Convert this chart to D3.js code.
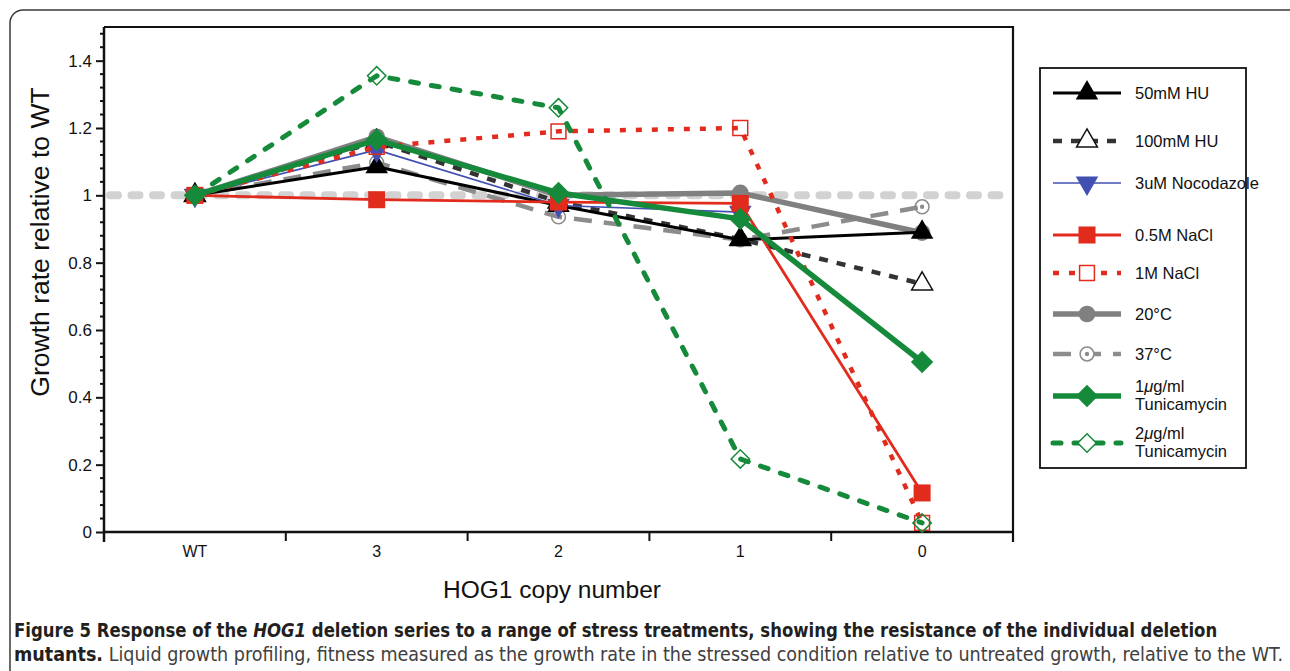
<!DOCTYPE html>
<html>
<head>
<meta charset="utf-8">
<script src="https://cdn.jsdelivr.net/npm/d3@7"></script>
<style>
  body { margin: 0; background: #fff; }
  svg { display: block; }
  text { font-family: "Liberation Sans", Arial, Helvetica, sans-serif; }
</style>
</head>
<body>
<svg id="chart" width="1290" height="671"></svg>
<script>
// copy numbers along x
var categories = ["WT", "3", "2", "1", "0"];
var yTicks = [0, 0.2, 0.4, 0.6, 0.8, 1, 1.2, 1.4];
var yTickLabels = ["0", "0.2", "0.4", "0.6", "0.8", "1", "1.2", "1.4"];

// growth rate relative to WT
var hu50       = [1.00, 1.085, 0.97, 0.868, 0.89];
var hu100      = [1.00, 1.16, 0.98, 0.87, 0.737];
var nocodazole = [1.00, 1.135, 0.97, 0.95, null];
var nacl05     = [1.00, 0.987, 0.98, 0.976, 0.116];
var nacl1      = [1.00, 1.144, 1.19, 1.20, 0.027];
var temp20     = [1.00, 1.174, 1.00, 1.007, 0.889];
var temp37     = [1.00, 1.097, 0.936, 0.868, 0.966];
var tunica1    = [1.00, 1.165, 1.007, 0.93, 0.505];
var tunica2    = [1.00, 1.355, 1.26, 0.217, 0.027];

var svg = d3.select("#chart");

var x = d3.scaleBand().domain(categories).range([104, 1013]);
var y = d3.scaleLinear().domain([0, 1.5]).range([532, 27]);
function cx(c) { return x(c) + x.bandwidth() / 2; }

// rounded figure border
svg.append("rect")
  .attr("x", 10).attr("y", 10).attr("width", 1320).attr("height", 720)
  .attr("rx", 13).attr("fill", "none").attr("stroke", "#3a3a3a").attr("stroke-width", 1.5);

// reference line at 1
svg.append("line")
  .attr("x1", 110).attr("x2", 1010)
  .attr("y1", y(1)).attr("y2", y(1))
  .attr("stroke", "#d2d2d2").attr("stroke-width", 8)
  .attr("stroke-linecap", "round").attr("stroke-dasharray", "8,13.5");

// frame top and right
svg.append("path")
  .attr("d", "M104," + y(1.5) + "H1013V542")
  .attr("fill", "none").attr("stroke", "#111").attr("stroke-width", 2.2);

// y axis
var yAxis = svg.append("g")
  .attr("transform", "translate(104,0)")
  .call(d3.axisLeft(y).tickValues(yTicks).tickSize(8).tickPadding(4)
    .tickFormat(function(d, i) { return yTickLabels[i]; }));
yAxis.select(".domain").attr("stroke", "#111").attr("stroke-width", 2.5)
  .attr("d", "M0," + y(1.5) + "V542");
yAxis.selectAll(".tick line").attr("stroke", "#111").attr("stroke-width", 2);
yAxis.selectAll(".tick text").attr("font-size", 17).attr("fill", "#111");

var minor = d3.range(0, 1.5, 0.04).filter(function(v) {
  return yTicks.every(function(t) { return Math.abs(t - v) > 0.001; });
});
svg.append("g").selectAll("line").data(minor).enter().append("line")
  .attr("x1", 100).attr("x2", 104)
  .attr("y1", function(d) { return y(d); }).attr("y2", function(d) { return y(d); })
  .attr("stroke", "#111").attr("stroke-width", 2);

// x axis
svg.append("line")
  .attr("x1", 104).attr("x2", 1013).attr("y1", 532).attr("y2", 532)
  .attr("stroke", "#111").attr("stroke-width", 2.5);
svg.append("g").selectAll("line").data(categories.slice(0, 4)).enter().append("line")
  .attr("x1", function(d) { return x(d) + x.bandwidth(); })
  .attr("x2", function(d) { return x(d) + x.bandwidth(); })
  .attr("y1", 532).attr("y2", 541)
  .attr("stroke", "#111").attr("stroke-width", 2);
svg.append("g").selectAll("text").data(categories).enter().append("text")
  .attr("x", cx).attr("y", 557)
  .attr("text-anchor", "middle").attr("font-size", 16).attr("fill", "#111")
  .text(function(d) { return d; });

// axis titles
svg.append("text")
  .attr("x", 552).attr("y", 598).attr("text-anchor", "middle")
  .attr("font-size", 24.5).attr("fill", "#111").text("HOG1 copy number");
svg.append("text")
  .attr("transform", "translate(49,242) rotate(-90)")
  .attr("text-anchor", "middle").attr("font-size", 26.5).attr("fill", "#111")
  .text("Growth rate relative to WT");

// series styles
var RED = "#e12b1c", GREEN = "#168a3b", BLUE = "#4150b2";
function tri(s) { return d3.symbol().type(d3.symbolTriangle).size(s)(); }
function sq(s) { return d3.symbol().type(d3.symbolSquare).size(s)(); }
function circ(s) { return d3.symbol().type(d3.symbolCircle).size(s)(); }

var series = [
  { name: ["37°C"], values: temp37, color: "#8c8c8c", width: 4.5, dash: "18,12",
    marker: circ(150), rot: 0, fill: "none", mstroke: "#8c8c8c", dot: true },
  { name: ["20°C"], values: temp20, color: "#808080", width: 5.5, dash: null,
    marker: circ(220), rot: 0, fill: "#808080" },
  { name: ["100mM HU"], values: hu100, color: "#333", width: 4.5, dash: "9,9",
    marker: tri(190), rot: 0, fill: "none", mstroke: "#111" },
  { name: ["50mM HU"], values: hu50, color: "#000", width: 3, dash: null,
    marker: tri(220), rot: 0, fill: "#000" },
  { name: ["3uM Nocodazole"], values: nocodazole, color: BLUE, width: 1.6, dash: null,
    marker: tri(220), rot: 180, fill: BLUE },
  { name: ["0.5M NaCl"], values: nacl05, color: RED, width: 2.8, dash: null,
    marker: sq(290), rot: 0, fill: RED },
  { name: ["1M NaCl"], values: nacl1, color: RED, width: 4.5, dash: "6,10",
    marker: sq(220), rot: 0, fill: "none", mstroke: RED },
  { name: ["1μg/ml", "Tunicamycin"], values: tunica1, color: GREEN, width: 5.5, dash: null,
    marker: sq(250), rot: 45, fill: GREEN },
  { name: ["2μg/ml", "Tunicamycin"], values: tunica2, color: GREEN, width: 5, dash: "8,13",
    marker: sq(170), rot: 45, fill: "none", mstroke: GREEN, cap: "round" }
];

var line = d3.line()
  .defined(function(d) { return d.v != null; })
  .x(function(d) { return cx(d.c); })
  .y(function(d) { return y(d.v); });

function drawMarker(g, s, px, py, legend) {
  g.append("path")
    .attr("d", s.marker)
    .attr("transform", "translate(" + px + "," + py + ") rotate(" + s.rot + ")")
    .attr("fill", legend && s.fill === "none" ? "#fff" : s.fill)
    .attr("stroke", s.mstroke || "none").attr("stroke-width", 1.5);
  if (s.dot) {
    g.append("circle").attr("cx", px).attr("cy", py).attr("r", 2.2).attr("fill", s.color);
  }
}

var plot = svg.append("g");
series.forEach(function(s) {
  var pts = categories.map(function(c, i) { return { c: c, v: s.values[i] }; });
  var g = plot.append("g");
  g.append("path").datum(pts)
    .attr("d", line)
    .attr("fill", "none").attr("stroke", s.color).attr("stroke-width", s.width)
    .attr("stroke-dasharray", s.dash).attr("stroke-linecap", s.cap || "butt")
    .attr("stroke-linejoin", "round");
  pts.filter(function(d) { return d.v != null; }).forEach(function(d) {
    drawMarker(g, s, cx(d.c), y(d.v), false);
  });
});

// legend
var legendOrder = ["50mM HU", "100mM HU", "3uM Nocodazole", "0.5M NaCl", "1M NaCl",
  "20°C", "37°C", "1μg/ml", "2μg/ml"];
var legendRows = [93, 141, 183, 235, 273, 314, 354, 396, 443];
var lg = svg.append("g");
lg.append("rect").attr("x", 1040).attr("y", 68).attr("width", 206).attr("height", 400)
  .attr("fill", "#fff").attr("stroke", "#111").attr("stroke-width", 1.8);
legendOrder.forEach(function(key, i) {
  var s = series.filter(function(d) { return d.name[0] === key; })[0];
  var ry = legendRows[i];
  lg.append("line").attr("x1", 1053).attr("x2", 1121).attr("y1", ry).attr("y2", ry)
    .attr("stroke", s.color).attr("stroke-width", s.width)
    .attr("stroke-dasharray", s.dash).attr("stroke-linecap", s.cap || "butt");
  drawMarker(lg, s, 1087, ry, true);
  var t = lg.append("text").attr("x", 1135).attr("font-size", 16.5).attr("fill", "#111");
  if (s.name.length === 1) {
    t.attr("y", ry + 6).text(s.name[0]);
  } else {
    var t1 = t.append("tspan").attr("x", 1135).attr("y", ry - 4);
    t1.append("tspan").text(s.name[0].charAt(0));
    t1.append("tspan").attr("font-style", "italic").text("μ");
    t1.append("tspan").text(s.name[0].slice(2));
    t.append("tspan").attr("x", 1135).attr("y", ry + 14).text(s.name[1]);
  }
});

// caption: one text per line, squeezed horizontally to the figure's width
var capFont = "'Liberation Sans Narrow', 'DejaVu Sans Condensed', 'Liberation Sans', sans-serif";
var capLines = [
  { y: 637, w: 1204, runs: [
    { text: "Figure 5 Response of the ", bold: true },
    { text: "HOG1", bold: true, italic: true },
    { text: " deletion series to a range of stress treatments, showing the resistance of the individual deletion", bold: true }
  ] },
  { y: 661, w: 1270, runs: [
    { text: "mutants.", bold: true },
    { text: " Liquid growth profiling, fitness measured as the growth rate in the stressed condition relative to untreated growth, relative to the WT.", bold: false }
  ] }
];
capLines.forEach(function(ln) {
  var t = svg.append("text").attr("x", 0).attr("y", 0).attr("font-size", 20)
    .style("font-family", capFont).attr("xml:space", "preserve");
  ln.runs.forEach(function(r) {
    t.append("tspan").text(r.text)
      .attr("font-weight", r.bold ? "bold" : "normal")
      .attr("font-style", r.italic ? "italic" : "normal")
      .attr("fill", r.bold ? "#231f20" : "#404040");
  });
  var natural = t.node().getComputedTextLength();
  t.attr("transform", "translate(14," + ln.y + ") scale(" + (ln.w / natural) + ",1)");
});
</script>
</body>
</html>
